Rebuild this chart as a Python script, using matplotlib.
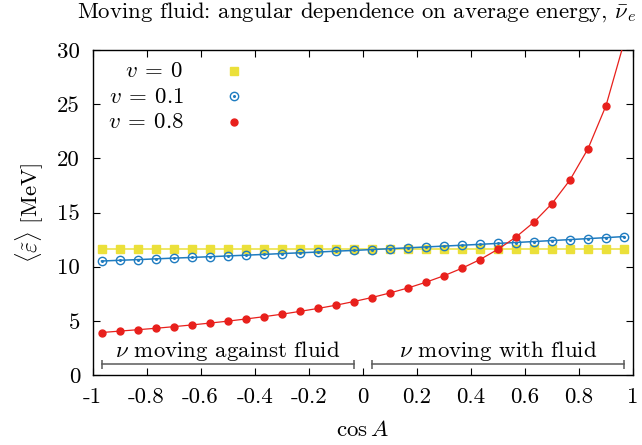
import matplotlib
matplotlib.use("Agg")

import matplotlib.pyplot as plt
import numpy as np

plt.rcParams["font.family"] = "cmr10"
plt.rcParams["mathtext.fontset"] = "cm"
plt.rcParams["axes.unicode_minus"] = False
plt.rcParams["font.size"] = 16.5

# cos A at the centre of each of the 30 angular bins
cos_a = [-0.9667, -0.9, -0.8333, -0.7667, -0.7, -0.6333, -0.5667, -0.5,
         -0.4333, -0.3667, -0.3, -0.2333, -0.1667, -0.1, -0.0333,
         0.0333, 0.1, 0.1667, 0.2333, 0.3, 0.3667, 0.4333, 0.5, 0.5667,
         0.6333, 0.7, 0.7667, 0.8333, 0.9, 0.9667]

# average energy in MeV
e_v0 = [11.6] * 30
e_v01 = [10.52, 10.59, 10.65, 10.72, 10.79, 10.85, 10.92, 10.99, 11.06,
         11.13, 11.21, 11.28, 11.35, 11.43, 11.50, 11.58, 11.66, 11.74,
         11.82, 11.90, 11.98, 12.06, 12.15, 12.23, 12.32, 12.41, 12.50,
         12.59, 12.68, 12.78]
e_v08 = [3.92, 4.05, 4.18, 4.31, 4.46, 4.62, 4.79, 4.97, 5.17, 5.38, 5.61,
         5.87, 6.14, 6.44, 6.78, 7.15, 7.57, 8.03, 8.56, 9.16, 9.85, 10.65,
         11.60, 12.73, 14.11, 15.82, 18.00, 20.88, 24.86, 30.70]

labels = [r"$v\:=\:0$", r"$v\:=\:0.1$", r"$v\:=\:0.8$"]

xticks = [-1, -0.8, -0.6, -0.4, -0.2, 0, 0.2, 0.4, 0.6, 0.8, 1]
xtick_labels = ["-1", "-0.8", "-0.6", "-0.4", "-0.2", "0", "0.2", "0.4",
                "0.6", "0.8", "1"]
yticks = [0, 5, 10, 15, 20, 25, 30]

# direction brackets along the bottom: (start, end, text)
brackets = [(-0.9667, -0.0333, r"$\nu$ moving against fluid"),
            (0.0333, 0.9667, r"$\nu$ moving with fluid")]

c_yellow = "#ebe03a"
c_blue = "#1f7cc0"
c_red = "#e8201c"

fig = plt.figure(figsize=(6.42, 4.45), dpi=100)
ax = fig.add_axes([0.1441, 0.1573, 0.8419, 0.7303])

x = np.array(cos_a)
y08 = np.array(e_v08)
shown = y08 <= 30

ax.plot(x, e_v0, color=c_yellow, lw=1.1, zorder=2)
ax.plot(x, e_v0, ls="none", marker="s", ms=5.8, mfc=c_yellow, mec=c_yellow,
        zorder=3)

ax.plot(x, e_v01, color=c_blue, lw=1.1, zorder=4)
ax.plot(x, e_v01, ls="none", marker="o", ms=6.0, mfc="none", mec=c_blue,
        mew=1.0, zorder=5)
ax.plot(x, e_v01, ls="none", marker="o", ms=1.2, mfc=c_blue, mec=c_blue,
        zorder=5)

ax.plot(x, y08, color=c_red, lw=0.9, zorder=6)
ax.plot(x[shown], y08[shown], ls="none", marker="o", ms=5.0, mfc=c_red,
        mec=c_red, zorder=7)

# key: right-aligned labels with the symbol to their right
key_rows = [0.916, 0.838, 0.759]
for lab, yk in zip(labels, key_rows):
    ax.text(0.169, yk, lab, transform=ax.transAxes, ha="right",
            va="baseline")
mk_y = [0.936, 0.858, 0.779]
ax.plot([0.262], [mk_y[0]], transform=ax.transAxes, marker="s", ms=5.8,
        color=c_yellow, clip_on=False)
ax.plot([0.262], [mk_y[1]], transform=ax.transAxes, marker="o", ms=6.0,
        mfc="none", mec=c_blue, mew=1.0, clip_on=False)
ax.plot([0.262], [mk_y[1]], transform=ax.transAxes, marker="o", ms=1.2,
        color=c_blue, clip_on=False)
ax.plot([0.262], [mk_y[2]], transform=ax.transAxes, marker="o", ms=5.0,
        color=c_red, clip_on=False)

for x0, x1, txt in brackets:
    ax.plot([x0, x1], [1, 1], color="#5a5a5a", lw=1.1, zorder=1)
    ax.vlines([x0, x1], 0.57, 1.43, color="#5a5a5a", lw=1.1, zorder=1)
    ax.text((x0 + x1) / 2, 1.65, txt, ha="center", va="baseline")

ax.set_xlim(-1, 1)
ax.set_ylim(0, 30)
ax.set_xticks(xticks, labels=xtick_labels)
ax.set_yticks(yticks, labels=[str(v) for v in yticks])
ax.tick_params(direction="in", length=5, width=0.8, top=True, right=True,
               pad=9)
for sp in ax.spines.values():
    sp.set_linewidth(1.0)

ax.set_xlabel(r"$\cos A$", labelpad=9)
ax.set_ylabel(r"$\langle\tilde{\varepsilon}\rangle$ [MeV]", labelpad=9)

fig.text(77 / 642, 1 - 17.3 / 445,
         r"Moving fluid: angular dependence on average energy, $\bar{\nu}_e$",
         ha="left", va="baseline", fontsize=16.4)

fig.savefig("out.png", dpi=100)
